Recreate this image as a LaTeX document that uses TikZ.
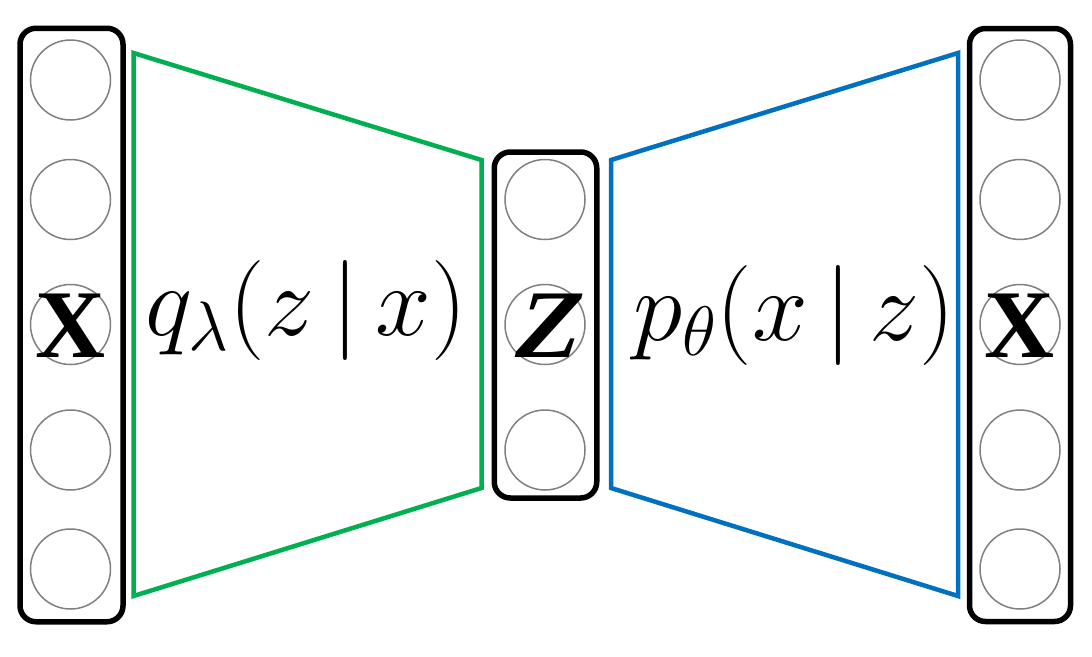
\RequirePackage{fix-cm}
\documentclass[tikz,border=0pt]{standalone}
\usepackage{fontspec}
\newfontfamily\timesfont{Liberation Serif}
\newfontfamily\timesslant{Liberation Serif}[FakeSlant=0.25]
\definecolor{encgreen}{HTML}{00B050}
\definecolor{decblue}{HTML}{0070C0}
\definecolor{unitgray}{HTML}{808080}
\begin{document}
\begin{tikzpicture}[x=1pt,y=-1pt,
  layerbox/.style={draw=black,line width=5.5pt,rounded corners=16pt,inner sep=0pt},
  unit/.style={circle,draw=unitgray,line width=1.5pt,minimum size=80pt,inner sep=0pt},
  bigletter/.style={font=\timesfont\fontsize{97}{97}\selectfont,inner sep=0pt,anchor=base},
  mathlabel/.style={font=\fontsize{100}{100}\selectfont,inner sep=0pt,anchor=base},
  funnel/.style={line width=4.5pt,line join=miter}
]
\useasboundingbox (0,0) rectangle (1092,656);
% boxes
\node[layerbox,minimum width=103pt,minimum height=593.5pt] (xin) at (71.5,325) {};
\node[layerbox,minimum width=102.5pt,minimum height=346pt] (zbox) at (545.5,325) {};
\node[layerbox,minimum width=101pt,minimum height=593pt] (xout) at (1020,325) {};
% units
\foreach \i/\y in {1/80,2/199.5,3/324.5,4/450,5/569}{
  \node[unit] (a\i) at (70.5,\y) {};
  \node[unit] (c\i) at (1020,\y) {};
}
\foreach \i/\y in {1/199.5,2/324.5,3/450}{
  \node[unit] (b\i) at (545,\y) {};
}
% funnels
\coordinate (g1) at (133.5,53);
\coordinate (g2) at (481.5,160);
\coordinate (g3) at (481.5,488);
\coordinate (g4) at (133.5,596);
\draw[funnel,encgreen] (g1) -- (g2) -- (g3) -- (g4) -- cycle;
\coordinate (h1) at (611,160);
\coordinate (h2) at (958,53);
\coordinate (h3) at (958,596);
\coordinate (h4) at (611,488);
\draw[funnel,decblue] (h1) -- (h2) -- (h3) -- (h4) -- cycle;
% labels
\node[bigletter] (xl) at (70.5,357) {\bfseries X};
\node[bigletter] (zl) at (543,357) {\timesslant\bfseries Z};
\node[bigletter] (xr) at (1020,357) {\bfseries X};
\node[mathlabel] (q) at (306,335) {$q_\lambda(z\,|\,x)$};
\node[mathlabel] (p) at (794,340) {$p_\theta(x\,|\,z)$};
\end{tikzpicture}
\end{document}
